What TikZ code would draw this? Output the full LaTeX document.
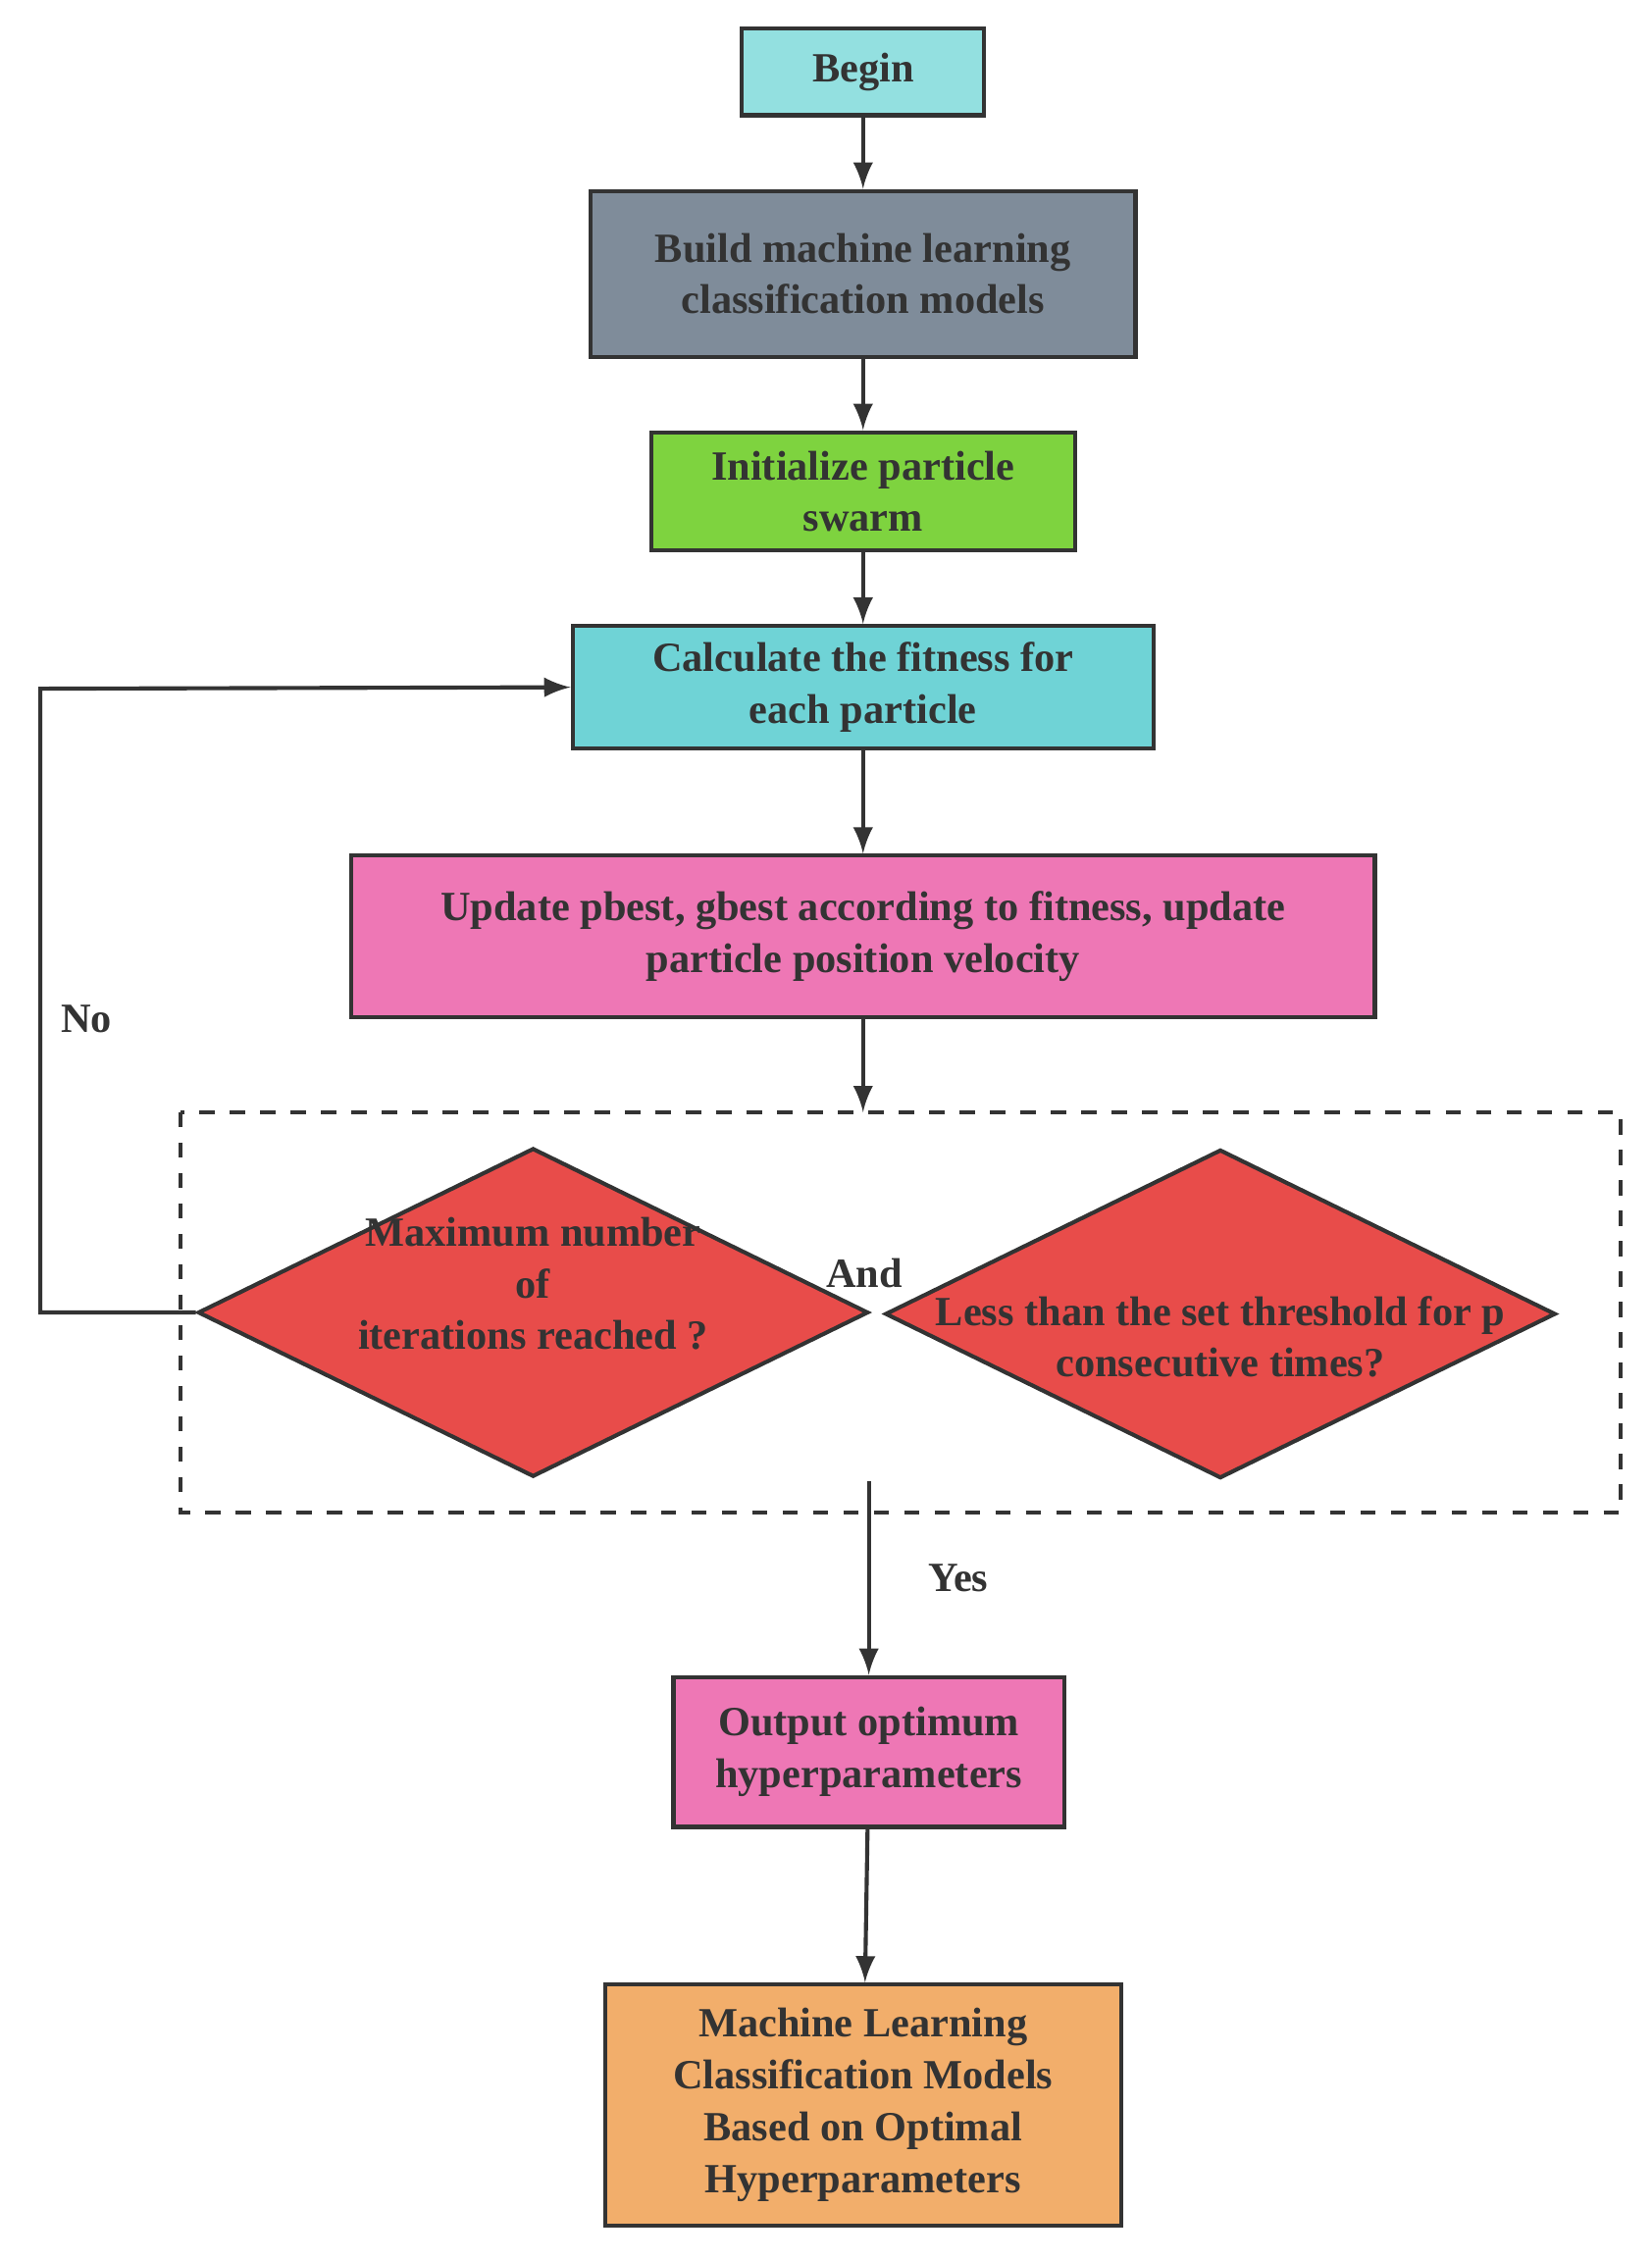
\documentclass[tikz,border=0pt]{standalone}
\usepackage{fontspec}
\setmainfont{Liberation Serif}
\usetikzlibrary{shapes.geometric}
\definecolor{beginc}{HTML}{93E0E0}
\definecolor{buildc}{HTML}{7F8C9A}
\definecolor{initc}{HTML}{7ED33F}
\definecolor{calcc}{HTML}{6FD3D6}
\definecolor{pinkc}{HTML}{EE77B5}
\definecolor{redc}{HTML}{E84C4A}
\definecolor{orangec}{HTML}{F2AE6B}
\definecolor{txtc}{HTML}{333333}
\tikzset{
    box/.style={draw=txtc,thick,align=center,inner sep=0pt,
        font=\fontsize{8.2pt}{10.2pt}\selectfont\bfseries,text=txtc},
    dia/.style={draw=txtc,thick,diamond,fill=redc,inner sep=0pt,
        minimum width=4.65cm,minimum height=2.28cm},
    lbl/.style={font=\fontsize{8.2pt}{10.2pt}\selectfont\bfseries,text=txtc,align=center},
    arr/.style={draw=txtc,thick,-latex}
}
\begin{document}
\begin{tikzpicture}[x=0.01cm,y=-0.01cm]
    \useasboundingbox (0,0) rectangle (1146,1568);

    % Boxes
    \node (begin) [box,fill=beginc,minimum width=1.68cm,minimum height=0.6cm] at (599,50) {Begin};
    \node (build) [box,fill=buildc,minimum width=3.78cm,minimum height=1.15cm] at (599,190)
        {Build machine learning\\classification models};
    \node (init) [box,fill=initc,minimum width=2.94cm,minimum height=0.82cm] at (599,341)
        {Initialize particle\\swarm};
    \node (calc) [box,fill=calcc,minimum width=4.03cm,minimum height=0.85cm] at (599,477)
        {Calculate the fitness for\\each particle};
    \node (update) [box,fill=pinkc,minimum width=7.1cm,minimum height=1.12cm] at (599,650)
        {Update pbest, gbest according to fitness, update\\particle position velocity};

    % Condition
    \draw [txtc,thick,dashed] (125,772) rectangle (1125,1050);
    \coordinate (ctop) at (599,772);
    \coordinate (cbot) at (603,1028);
    \node (maxit) [dia] at (370,911) {};
    \node [lbl] at (370,891) {Maximum number\\of\\iterations reached ?};
    \node (thres) [dia] at (847,912) {};
    \node [lbl] at (847,928) {Less than the set threshold for p\\consecutive times?};
    \node [lbl] at (600,884) {And};

    \node (output) [box,fill=pinkc,minimum width=2.71cm,minimum height=1.04cm] at (603,1216)
        {Output optimum\\hyperparameters};
    \node (final) [box,fill=orangec,minimum width=3.58cm,minimum height=1.67cm] at (599,1461)
        {Machine Learning\\Classification Models\\Based on Optimal\\Hyperparameters};

    % Arrows
    \draw [arr] (begin) -- (build);
    \draw [arr] (build) -- (init);
    \draw [arr] (init) -- (calc);
    \draw [arr] (calc) -- (update);
    \draw [arr] (update) -- (ctop);
    \draw [arr] (cbot) -- node [lbl,right,xshift=8pt] {Yes} (output);
    \draw [arr] (output) -- (final);
    \draw [arr] (maxit.west) -- (28,911) -- (28,478) -- (calc.west);
    \node [lbl] at (60,707) {No};
\end{tikzpicture}
\end{document}
